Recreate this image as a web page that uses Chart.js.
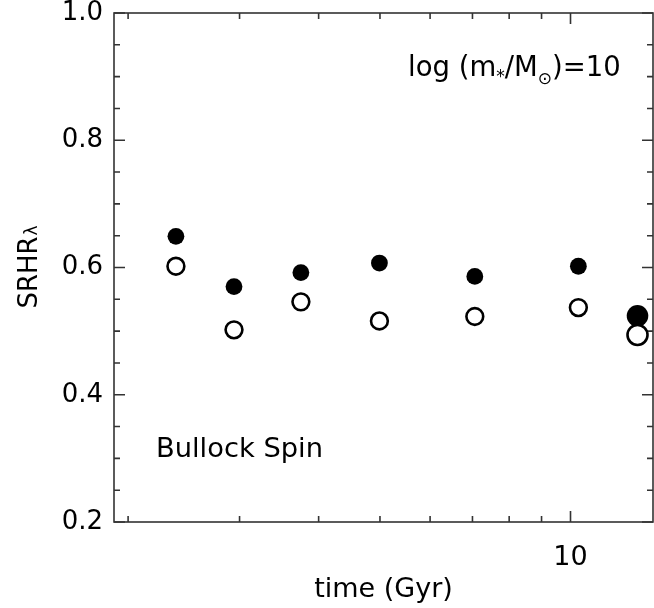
<!DOCTYPE html>
<html>
<head>
<meta charset="utf-8">
<script src="https://cdn.jsdelivr.net/npm/chart.js@4/dist/chart.umd.min.js"></script>
<style>
  html, body { margin: 0; padding: 0; background: #fff; }
  #wrap { width: 654px; height: 608px; }
</style>
</head>
<body>
<div id="wrap"><canvas id="c" width="654" height="608"></canvas></div>
<script>
// Cosmic time of each snapshot (Gyr)
const timeGyr = [2.38, 2.94, 3.75, 4.99, 7.06, 10.29, 12.76];
// SRHR_lambda, filled symbols
const srhrFilled = [0.649, 0.570, 0.592, 0.607, 0.586, 0.602, 0.524];
// SRHR_lambda, open symbols
const srhrOpen = [0.602, 0.502, 0.546, 0.516, 0.523, 0.537, 0.494];
// Axis tick values
const xMinorTicks = [2, 3, 4, 5, 6, 7, 8, 9];
const xMajorTicks = [10];
const yMajorTicks = [0.2, 0.4, 0.6, 0.8, 1.0];
const yMinorTicks = [0.25, 0.3, 0.35, 0.45, 0.5, 0.55, 0.65, 0.7, 0.75, 0.85, 0.9, 0.95];

const FONT = 'DejaVu Sans';
const AXIS_COLOR = '#333';

const toPoints = (ys) => timeGyr.map((t, i) => ({ x: t, y: ys[i] }));
const lastBig = (small, big) => timeGyr.map((_, i) => i === timeGyr.length - 1 ? big : small);

// Frame around the plot with inward ticks on all four sides
const framePlugin = {
  id: 'frame',
  beforeDatasetsDraw(chart) {
    const { ctx, chartArea: a, scales } = chart;
    const xs = scales.x, ys = scales.y;
    ctx.save();
    ctx.strokeStyle = AXIS_COLOR;
    ctx.lineWidth = 1.6;
    ctx.strokeRect(a.left, a.top, a.right - a.left, a.bottom - a.top);
    ctx.beginPath();
    const xTick = (v, len) => {
      const px = xs.getPixelForValue(v);
      ctx.moveTo(px, a.bottom); ctx.lineTo(px, a.bottom - len);
      ctx.moveTo(px, a.top); ctx.lineTo(px, a.top + len);
    };
    const yTick = (v, len) => {
      const py = ys.getPixelForValue(v);
      ctx.moveTo(a.left, py); ctx.lineTo(a.left + len, py);
      ctx.moveTo(a.right, py); ctx.lineTo(a.right - len, py);
    };
    xMinorTicks.forEach(v => xTick(v, 6));
    xMajorTicks.forEach(v => xTick(v, 11));
    yMinorTicks.forEach(v => yTick(v, 6));
    yMajorTicks.forEach(v => yTick(v, 11));
    ctx.stroke();
    ctx.restore();
  }
};

// Y-axis title and in-plot annotations
const notesPlugin = {
  id: 'notes',
  afterDraw(chart) {
    const { ctx, chartArea: a } = chart;
    ctx.save();
    ctx.fillStyle = '#000';
    ctx.textBaseline = 'alphabetic';
    ctx.textAlign = 'left';

    // rotated y title: SRHR followed by a smaller lambda
    const tBig = '26px "' + FONT + '"';
    const tSmall = '17px "' + FONT + '"';
    ctx.font = tBig;
    const w1 = ctx.measureText('SRHR').width;
    ctx.font = tSmall;
    const w2 = ctx.measureText('\u03bb').width;
    ctx.save();
    ctx.translate(37, (a.top + a.bottom) / 2 + (w1 + w2) / 2);
    ctx.rotate(-Math.PI / 2);
    ctx.font = tBig;
    ctx.fillText('SRHR', 0, 0);
    ctx.font = tSmall;
    ctx.fillText('\u03bb', w1 + 1, 0);
    ctx.restore();

    const big = '27.5px "' + FONT + '"';
    const small = '17px "' + FONT + '"';
    let x = a.left + 294;
    const y = a.top + 63;
    const put = (txt, font, dy) => {
      ctx.font = font;
      ctx.fillText(txt, x, y + dy);
      x += ctx.measureText(txt).width;
    };
    put('log (m', big, 0);
    put('*', small, 6);
    put('/M', big, 0);
    put('\u2299', small, 8);
    put(')=10', big, 0);

    ctx.font = '27.3px "' + FONT + '"';
    ctx.fillText('Bullock Spin', a.left + 42, a.top + 444);
    ctx.restore();
  }
};

new Chart(document.getElementById('c'), {
  type: 'scatter',
  data: {
    datasets: [
      {
        label: 'open',
        data: toPoints(srhrOpen),
        backgroundColor: '#fff',
        borderColor: '#000',
        borderWidth: 2.6,
        pointRadius: lastBig(8.4, 10),
        pointHoverRadius: lastBig(8.4, 10)
      },
      {
        label: 'filled',
        data: toPoints(srhrFilled),
        backgroundColor: '#000',
        borderColor: '#000',
        borderWidth: 0,
        pointRadius: lastBig(8.4, 10.8),
        pointHoverRadius: lastBig(8.4, 10.8)
      }
    ]
  },
  options: {
    responsive: false,
    animation: false,
    events: [],
    layout: { autoPadding: false, padding: { top: 13, right: 1, left: 0, bottom: 0 } },
    plugins: { legend: { display: false }, tooltip: { enabled: false } },
    scales: {
      x: {
        type: 'logarithmic',
        min: 1.9,
        max: 13.5,
        grid: { display: false, drawTicks: false },
        border: { display: false },
        afterBuildTicks(scale) {
          scale.ticks = xMinorTicks.concat(xMajorTicks).map(v => ({ value: v }));
        },
        afterFit(scale) {
          scale.height = 86;
          scale.paddingLeft = 0;
          scale.paddingRight = 0;
        },
        ticks: {
          autoSkip: false,
          maxRotation: 0,
          padding: 22,
          color: '#000',
          font: { family: FONT, size: 27, lineHeight: 1 },
          callback: (v) => (xMajorTicks.includes(v) ? String(v) : '')
        },
        title: {
          display: true,
          text: 'time (Gyr)',
          color: '#000',
          font: { family: FONT, size: 27, lineHeight: 1 },
          padding: { top: 0, bottom: 5 }
        }
      },
      y: {
        min: 0.2,
        max: 1.0,
        grid: { display: false, drawTicks: false },
        border: { display: false },
        afterBuildTicks(scale) {
          scale.ticks = yMajorTicks.map(v => ({ value: v }));
        },
        afterFit(scale) {
          scale.width = 114;
          scale.paddingTop = 0;
          scale.paddingBottom = 0;
        },
        ticks: {
          padding: 11,
          color: '#000',
          font: { family: FONT, size: 26, lineHeight: 1 },
          callback: (v) => v.toFixed(1)
        },
        title: { display: false }
      }
    }
  },
  plugins: [framePlugin, notesPlugin]
});
</script>
</body>
</html>
